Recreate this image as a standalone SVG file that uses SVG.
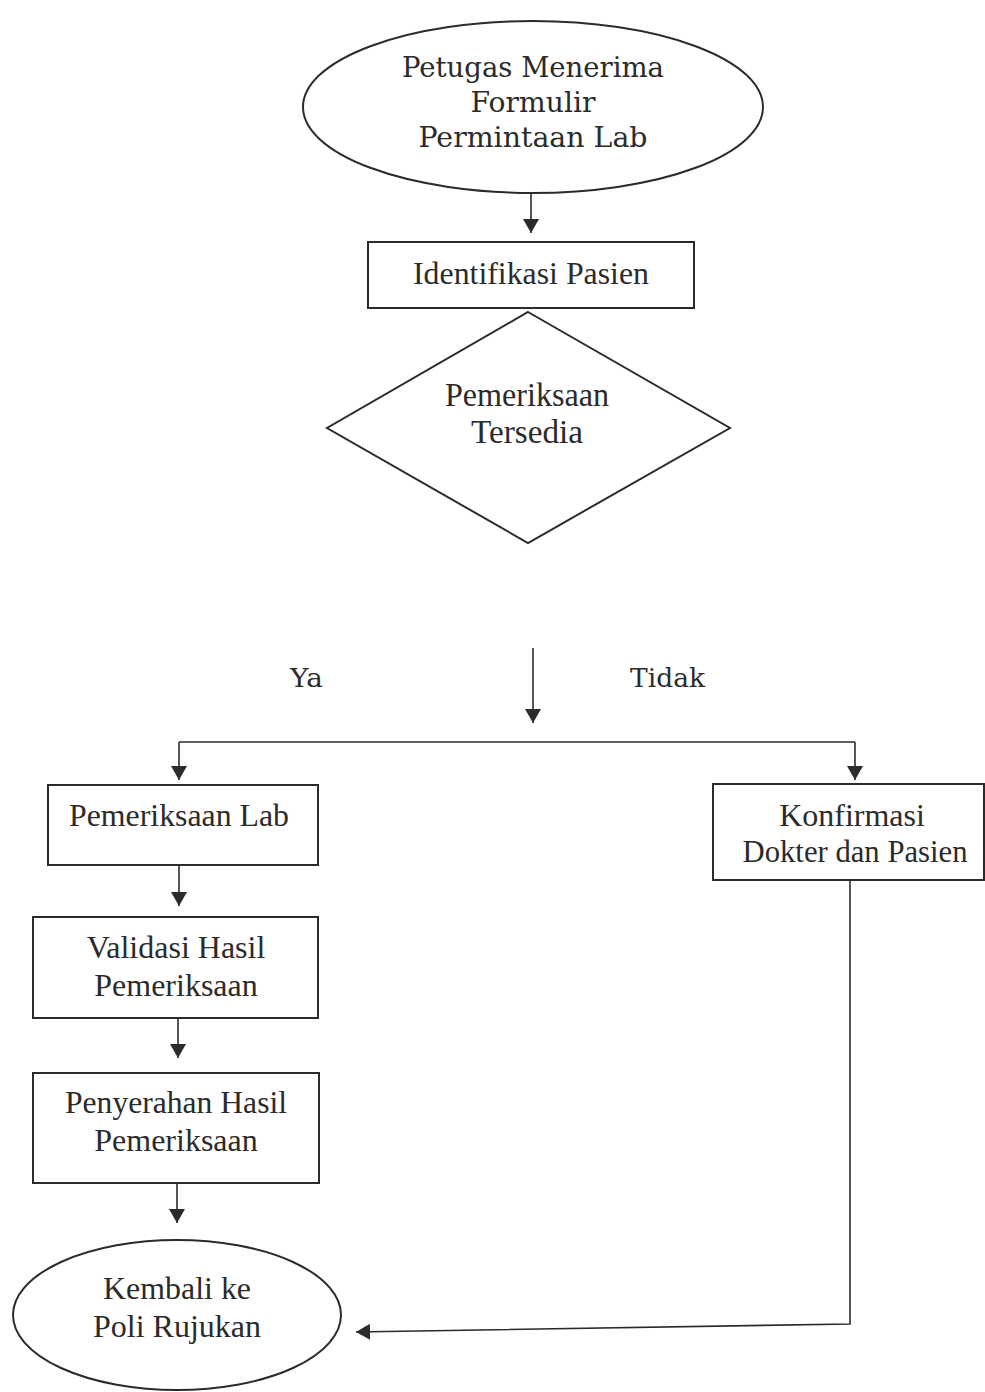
<svg xmlns="http://www.w3.org/2000/svg" width="985" height="1392" viewBox="0 0 985 1392">
  <style>
    .shape { fill: #ffffff; stroke: #2b2b2b; stroke-width: 2; }
    .conn { fill: none; stroke: #2b2b2b; stroke-width: 1.6; }
    .lbl { font-family: "Liberation Serif", "Times New Roman", serif; font-size: 32px; fill: #2b2b2b; text-anchor: middle; }
    .lbl-wide { font-family: "DejaVu Serif", "Liberation Serif", serif; font-size: 28px; fill: #2b2b2b; text-anchor: middle; }
    .branch { font-family: "DejaVu Serif", "Liberation Serif", serif; font-size: 26px; fill: #2b2b2b; }
  </style>
  <defs>
    <marker id="arrow" viewBox="0 0 14 16" refX="14" refY="8" markerWidth="14" markerHeight="16" markerUnits="userSpaceOnUse" orient="auto">
      <path d="M0,0 L14,8 L0,16 Z" fill="#2b2b2b"/>
    </marker>
  </defs>
  <rect width="985" height="1392" fill="#ffffff"/>

  <!-- connectors -->
  <g id="connectors">
    <line class="conn" x1="531" y1="193" x2="531" y2="233" marker-end="url(#arrow)"/>
    <line class="conn" x1="533" y1="648" x2="533" y2="723" marker-end="url(#arrow)"/>
    <line class="conn" x1="179" y1="742" x2="855" y2="742"/>
    <line class="conn" x1="179" y1="742" x2="179" y2="780" marker-end="url(#arrow)"/>
    <line class="conn" x1="855" y1="742" x2="855" y2="780" marker-end="url(#arrow)"/>
    <line class="conn" x1="179" y1="865" x2="179" y2="906" marker-end="url(#arrow)"/>
    <line class="conn" x1="178" y1="1018" x2="178" y2="1058" marker-end="url(#arrow)"/>
    <line class="conn" x1="177" y1="1183" x2="177" y2="1223" marker-end="url(#arrow)"/>
    <polyline class="conn" points="850,880 850,1324 356,1332" marker-end="url(#arrow)"/>
    <text class="branch" x="290" y="687" textLength="33" lengthAdjust="spacingAndGlyphs">Ya</text>
    <text class="branch" x="630" y="687" textLength="75" lengthAdjust="spacingAndGlyphs">Tidak</text>
  </g>

  <g id="start">
    <ellipse class="shape" cx="533" cy="107" rx="230" ry="86"/>
    <text class="lbl-wide" x="533" y="77" textLength="262" lengthAdjust="spacingAndGlyphs">Petugas Menerima</text>
    <text class="lbl-wide" x="533" y="112" textLength="125" lengthAdjust="spacingAndGlyphs">Formulir</text>
    <text class="lbl-wide" x="533" y="147" textLength="229" lengthAdjust="spacingAndGlyphs">Permintaan Lab</text>
  </g>

  <g id="identifikasi">
    <rect class="shape" x="368" y="242" width="326" height="66"/>
    <text class="lbl" x="531" y="284" textLength="236" lengthAdjust="spacingAndGlyphs">Identifikasi Pasien</text>
  </g>

  <g id="decision">
    <polygon class="shape" points="528,312 730,428 528,543 327,428"/>
    <text class="lbl" x="527" y="406" style="font-size:34px" textLength="164" lengthAdjust="spacingAndGlyphs">Pemeriksaan</text>
    <text class="lbl" x="527" y="443" style="font-size:34px" textLength="112" lengthAdjust="spacingAndGlyphs">Tersedia</text>
  </g>

  <g id="pemeriksaan-lab">
    <rect class="shape" x="48" y="785" width="270" height="80"/>
    <text class="lbl" x="179" y="826" textLength="220" lengthAdjust="spacingAndGlyphs">Pemeriksaan Lab</text>
  </g>

  <g id="validasi">
    <rect class="shape" x="33" y="917" width="285" height="101"/>
    <text class="lbl" x="176" y="958">Validasi Hasil</text>
    <text class="lbl" x="176" y="996">Pemeriksaan</text>
  </g>

  <g id="penyerahan">
    <rect class="shape" x="33" y="1073" width="286" height="110"/>
    <text class="lbl" x="176" y="1113" textLength="222" lengthAdjust="spacingAndGlyphs">Penyerahan Hasil</text>
    <text class="lbl" x="176" y="1151">Pemeriksaan</text>
  </g>

  <g id="konfirmasi">
    <rect class="shape" x="713" y="784" width="271" height="96"/>
    <text class="lbl" x="852" y="826">Konfirmasi</text>
    <text class="lbl" x="855" y="862" textLength="225" lengthAdjust="spacingAndGlyphs">Dokter dan Pasien</text>
  </g>

  <g id="end">
    <ellipse class="shape" cx="177" cy="1315" rx="164" ry="75"/>
    <text class="lbl" x="177" y="1299" textLength="148" lengthAdjust="spacingAndGlyphs">Kembali ke</text>
    <text class="lbl" x="177" y="1337">Poli Rujukan</text>
  </g>
</svg>
